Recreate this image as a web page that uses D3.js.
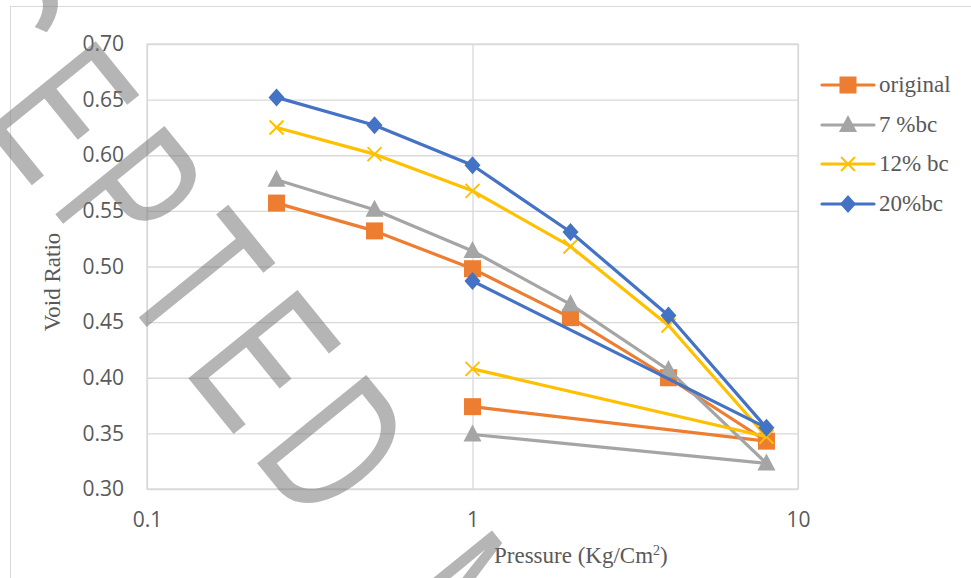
<!DOCTYPE html>
<html>
<head>
<meta charset="utf-8">
<script src="https://cdn.jsdelivr.net/npm/d3@7"></script>
<style>
  body { margin: 0; background: #fff; }
  svg { display: block; }
</style>
</head>
<body>
<svg id="chart" width="971" height="578"></svg>
<script>
// pressure steps: loading 0.25 -> 8, then unloading back to 1
const pressure = [0.25, 0.5, 1, 2, 4, 8, 1];
const seriesNames = ["original", "7 %bc", "12% bc", "20%bc"];
const original = [0.557, 0.532, 0.498, 0.454, 0.400, 0.343, 0.374];
const bc7 = [0.578, 0.551, 0.514, 0.466, 0.407, 0.323, 0.349];
const bc12 = [0.625, 0.601, 0.568, 0.518, 0.447, 0.347, 0.408];
const bc20 = [0.652, 0.627, 0.591, 0.531, 0.456, 0.355, 0.487];
const yTicks = [0.30, 0.35, 0.40, 0.45, 0.50, 0.55, 0.60, 0.65, 0.70];
const xTicks = [0.1, 1, 10];

const colors = ["#ED7D31", "#A5A5A5", "#FFC000", "#4472C4"];
const markers = ["square", "triangle", "cross", "diamond"];
const allValues = [original, bc7, bc12, bc20];

const svg = d3.select("#chart");
const plotLeft = 147, plotRight = 798, plotTop = 44, plotBottom = 489;
const plotW = plotRight - plotLeft, plotH = plotBottom - plotTop;

const x = d3.scaleLog().domain([0.1, 10]).range([plotLeft, plotRight]);
const y = d3.scaleLinear().domain([0.30, 0.70]).range([plotBottom, plotTop]);

// chart frame
svg.append("rect")
  .attr("x", 10.5).attr("y", 6.5)
  .attr("width", 1000).attr("height", 600)
  .attr("fill", "none").attr("stroke", "#d9d9d9");

// y axis + horizontal grid
const yAxis = svg.append("g")
  .attr("transform", `translate(${plotLeft},0)`)
  .call(d3.axisLeft(y).tickValues(yTicks).tickSize(-plotW).tickPadding(23)
    .tickFormat(d3.format(".2f")));
yAxis.select(".domain").remove();
yAxis.selectAll("line").attr("stroke", "#d9d9d9").attr("stroke-width", 1.3);
yAxis.selectAll("text")
  .attr("font-family", "'Open Sans', sans-serif")
  .attr("font-size", 21).attr("fill", "#595959");

// x axis + vertical grid
const xAxis = svg.append("g")
  .attr("transform", `translate(0,${plotBottom})`)
  .call(d3.axisBottom(x).tickValues(xTicks).tickSize(-plotH).tickPadding(23)
    .tickFormat(d => String(d)));
xAxis.select(".domain").remove();
xAxis.selectAll("line").attr("stroke", "#d9d9d9").attr("stroke-width", 1.3);
xAxis.selectAll("text")
  .attr("font-family", "'Open Sans', sans-serif")
  .attr("font-size", 21).attr("fill", "#595959");

svg.append("rect")
  .attr("x", plotLeft).attr("y", plotTop)
  .attr("width", plotW).attr("height", plotH)
  .attr("fill", "none").attr("stroke", "#d9d9d9").attr("stroke-width", 1.3);

// marker shapes
function drawMarker(g, type, color, cx, cy) {
  if (type === "square") {
    g.append("rect").attr("x", cx - 8.5).attr("y", cy - 8.5)
      .attr("width", 17).attr("height", 17).attr("fill", color);
  } else if (type === "triangle") {
    g.append("path")
      .attr("d", `M${cx},${cy - 10}L${cx + 9},${cy + 7}L${cx - 9},${cy + 7}Z`)
      .attr("fill", color);
  } else if (type === "cross") {
    g.append("path")
      .attr("d", `M${cx - 7},${cy - 7}L${cx + 7},${cy + 7}M${cx - 7},${cy + 7}L${cx + 7},${cy - 7}`)
      .attr("stroke", color).attr("stroke-width", 2).attr("fill", "none");
  } else {
    g.append("path")
      .attr("d", `M${cx},${cy - 9}L${cx + 8},${cy}L${cx},${cy + 9}L${cx - 8},${cy}Z`)
      .attr("fill", color);
  }
}

const line = d3.line().x(d => x(d[0])).y(d => y(d[1]));

allValues.forEach((vals, i) => {
  const pts = pressure.map((p, j) => [p, vals[j]]);
  const g = svg.append("g");
  g.append("path")
    .attr("d", line(pts))
    .attr("fill", "none")
    .attr("stroke", colors[i])
    .attr("stroke-width", 3.2)
    .attr("stroke-linejoin", "round")
    .attr("stroke-linecap", "round");
  pts.forEach(d => drawMarker(g, markers[i], colors[i], x(d[0]), y(d[1])));
});

// legend
const legendY = [85, 125, 164, 204];
seriesNames.forEach((name, i) => {
  const g = svg.append("g");
  g.append("line")
    .attr("x1", 822).attr("x2", 874)
    .attr("y1", legendY[i]).attr("y2", legendY[i])
    .attr("stroke", colors[i]).attr("stroke-width", 3.2)
    .attr("stroke-linecap", "round");
  drawMarker(g, markers[i], colors[i], 848, legendY[i]);
  g.append("text")
    .attr("x", 879).attr("y", legendY[i] + 7)
    .attr("font-family", "'Liberation Serif', 'Times New Roman', serif")
    .attr("font-size", 23).attr("fill", "#595959")
    .style("white-space", "pre")
    .text(name);
});

// axis titles
svg.append("text")
  .attr("transform", "translate(60,282) rotate(-90)")
  .attr("text-anchor", "middle")
  .attr("font-family", "'Liberation Serif', 'Times New Roman', serif")
  .attr("font-size", 23).attr("fill", "#595959")
  .text("Void Ratio");

const xt = svg.append("text")
  .attr("x", 494).attr("y", 563)
  .attr("font-family", "'Liberation Serif', 'Times New Roman', serif")
  .attr("font-size", 23).attr("fill", "#595959")
  .text("Pressure (Kg/Cm");
xt.append("tspan").attr("font-size", 14).attr("dy", -8).text("2");
xt.append("tspan").attr("dy", 8).text(")");

// watermark
const wmAngle = 51, wmScale = 0.65, wmSize = 204;
const wm = svg.append("g").attr("opacity", 0.55);
const wmText = wm.append("text")
  .attr("font-family", "'Liberation Sans', Arial, sans-serif")
  .attr("font-size", wmSize)
  .attr("letter-spacing", 32)
  .attr("word-spacing", 40)
  .attr("fill", "#7a7a7a")
  .text("ACCEPTED MANUSCRIPT");
const p6 = wmText.node().getStartPositionOfChar(6);
const ex = p6.x + 0.079 * wmSize;
const a = wmAngle * Math.PI / 180;
const tx = 188 - wmScale * ex * Math.cos(a);
const ty = 378 - wmScale * ex * Math.sin(a);
wm.attr("transform", `translate(${tx},${ty}) rotate(${wmAngle}) scale(${wmScale},1)`);
</script>
</body>
</html>
